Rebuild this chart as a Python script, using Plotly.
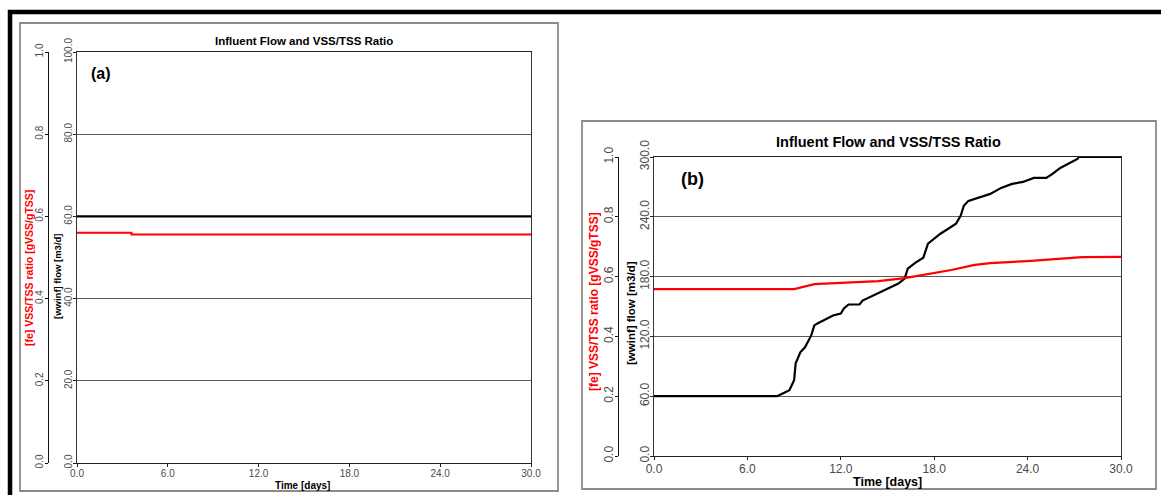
import plotly.graph_objects as go

W, H = 1161, 495

# ---------------- data ----------------
# Panel (a)
a_time_flow = [0.0, 30.0]
a_flow = [60.0, 60.0]
a_time_ratio = [0.0, 3.6, 3.6, 30.0]
a_ratio = [0.560, 0.560, 0.556, 0.556]

# Panel (b)
b_time_flow = [0.0, 7.9, 8.3, 8.7, 9.0, 9.1, 9.4, 9.7, 10.1, 10.3, 10.5, 10.9, 11.5, 12.0,
               12.2, 12.5, 13.2, 13.4, 14.1, 14.8, 15.2, 15.7, 16.1, 16.3, 16.8, 17.3,
               17.6, 18.0, 18.4, 18.9, 19.4, 19.7, 19.9, 20.2, 20.8, 21.6, 22.3, 23.0,
               23.7, 24.4, 25.2, 25.6, 26.1, 26.6, 27.2, 27.3, 30.0]
b_flow = [60, 60, 63, 66, 76, 93, 104, 109, 121, 131, 133, 136, 141, 143,
          148, 152, 152, 156, 161, 166, 169, 173, 178, 188, 194, 199,
          213, 218, 223, 228, 233, 241, 251, 256, 259, 263, 269, 273,
          275, 279, 279, 283, 289, 293, 298, 300, 300]
b_time_ratio = [0.0, 9.0, 10.3, 12.0, 14.4, 16.1, 18.0, 19.1, 20.6, 21.6, 24.0, 26.3, 27.5, 30.0]
b_ratio = [0.558, 0.558, 0.575, 0.579, 0.585, 0.595, 0.612, 0.622, 0.639, 0.645, 0.652,
           0.659, 0.665, 0.666]

x_ticks = [0, 6, 12, 18, 24, 30]
x_ticklabels = ["0.0", "6.0", "12.0", "18.0", "24.0", "30.0"]
ratio_ticks = [0, 0.2, 0.4, 0.6, 0.8, 1.0]
ratio_ticklabels = ["0.0", "0.2", "0.4", "0.6", "0.8", "1.0"]
a_flow_ticks = [0, 20, 40, 60, 80, 100]
a_flow_ticklabels = ["0.0", "20.0", "40.0", "60.0", "80.0", "100.0"]
b_flow_ticks = [0, 60, 120, 180, 240, 300]
b_flow_ticklabels = ["0.0", "60.0", "120.0", "180.0", "240.0", "300.0"]

chart_title = "Influent Flow and VSS/TSS Ratio"
x_title = "Time [days]"
ratio_title = "[fe] VSS/TSS ratio [gVSS/gTSS]"
flow_title = "[wwinf] flow [m3/d]"

FONT = "Liberation Sans, Arial, sans-serif"


def fx(p):
    return p / W


def fy(p):
    return 1 - p / H


fig = go.Figure()

# panel (a)
fig.add_trace(go.Scatter(x=a_time_ratio, y=a_ratio, xaxis="x", yaxis="y2", mode="lines",
                         line=dict(color="#ff0000", width=2), showlegend=False))
fig.add_trace(go.Scatter(x=a_time_flow, y=a_flow, xaxis="x", yaxis="y", mode="lines",
                         line=dict(color="#000000", width=2.2), showlegend=False))
# panel (b)
fig.add_trace(go.Scatter(x=b_time_ratio, y=b_ratio, xaxis="x2", yaxis="y4", mode="lines",
                         line=dict(color="#ff0000", width=2.2), showlegend=False))
fig.add_trace(go.Scatter(x=b_time_flow, y=b_flow, xaxis="x2", yaxis="y3", mode="lines",
                         line=dict(color="#000000", width=2.2), showlegend=False))

tick_col = "#4a4a4a"
grid_col = "#5a5a5a"


def xaxis_cfg(domain, anchor, size):
    return dict(domain=domain, anchor=anchor, range=[0, 30], tickvals=x_ticks,
                ticktext=x_ticklabels, ticks="outside", ticklen=3, tickcolor="#222",
                showline=True, linecolor="#222", linewidth=1.2, mirror=True,
                showgrid=False, zeroline=False, automargin=False, ticklabelstandoff=-2,
                tickfont=dict(family=FONT, size=size, color=tick_col), fixedrange=True)


def flow_cfg(domain, anchor, rng, vals, texts, size, standoff):
    return dict(domain=domain, anchor=anchor, range=rng, tickvals=vals, ticktext=texts,
                ticks="outside", ticklen=3, tickcolor="#222", tickangle=-90,
                showline=True, linecolor="#333", linewidth=1.2, mirror=True,
                showgrid=True, gridcolor=grid_col, gridwidth=1.2, zeroline=False,
                automargin=False, ticklabelstandoff=standoff,
                tickfont=dict(family=FONT, size=size, color=tick_col), fixedrange=True)


def ratio_cfg(domain, overlay, pos, size, standoff):
    return dict(domain=domain, overlaying=overlay, anchor="free", position=pos, side="left",
                range=[0, 1], tickvals=ratio_ticks, ticktext=ratio_ticklabels,
                ticks="outside", ticklen=3, tickcolor="#111", tickangle=-90,
                showline=True, linecolor="#111", linewidth=1.2, showgrid=False, zeroline=False,
                automargin=False, ticklabelstandoff=standoff,
                tickfont=dict(family=FONT, size=size, color=tick_col), fixedrange=True)


a_xdom = [fx(77), fx(531)]
a_ydom = [fy(463), fy(52)]
b_xdom = [fx(654), fx(1121)]
b_ydom = [fy(456), fy(157)]

fig.update_layout(
    width=W, height=H,
    margin=dict(l=0, r=0, t=0, b=0, autoexpand=False),
    paper_bgcolor="white", plot_bgcolor="white",
    showlegend=False,
    xaxis=xaxis_cfg(a_xdom, "y", 10),
    yaxis=flow_cfg(a_ydom, "x", [0, 100], a_flow_ticks, a_flow_ticklabels, 10, -3),
    yaxis2=ratio_cfg(a_ydom, "y", fx(48), 10, -2),
    xaxis2=xaxis_cfg(b_xdom, "y3", 12),
    yaxis3=flow_cfg(b_ydom, "x2", [0, 300], b_flow_ticks, b_flow_ticklabels, 12, -4),
    yaxis4=ratio_cfg(b_ydom, "y3", fx(618), 12, -3),
)

shapes = [
    # outer black frame
    dict(type="rect", xref="paper", yref="paper", x0=fx(10), x1=fx(1175), y0=fy(520), y1=fy(12),
         line=dict(color="black", width=4.5), layer="above"),
    # panel boxes
    dict(type="rect", xref="paper", yref="paper", x0=fx(20), x1=fx(558), y0=fy(491), y1=fy(23),
         line=dict(color="#8a8a8a", width=1.8), layer="below"),
    dict(type="rect", xref="paper", yref="paper", x0=fx(582), x1=fx(1156), y0=fy(489), y1=fy(121),
         line=dict(color="#8a8a8a", width=1.8), layer="below"),
]
fig.update_layout(shapes=shapes)

ann = []


def add_text(text, x, y, size, color="black", bold=True, angle=0):
    ann.append(dict(text=("<b>%s</b>" % text) if bold else text, x=fx(x), y=fy(y),
                    xref="paper", yref="paper", showarrow=False, textangle=angle,
                    font=dict(family=FONT, size=size, color=color),
                    xanchor="center", yanchor="middle"))


# panel (a) texts
add_text(chart_title, 304, 41, 11.5)
add_text("(a)", 101, 73, 16)
add_text(x_title, 302, 485, 10)
add_text(ratio_title, 29, 268, 10.5, color="#ff0000", angle=-90)
add_text(flow_title, 57, 276, 9.5, angle=-90)

# panel (b) texts
add_text(chart_title, 888, 142, 14.5)
add_text("(b)", 692, 179, 18)
add_text(x_title, 887, 482, 12.5)
add_text(ratio_title, 594, 302, 12, color="#ff0000", angle=-90)
add_text(flow_title, 631, 313, 11.5, angle=-90)

fig.update_layout(annotations=ann)

fig.write_html(
    "out.html",
    config={"displayModeBar": False},
    post_script="document.body.style.margin='0';document.body.style.overflow='hidden';",
)
